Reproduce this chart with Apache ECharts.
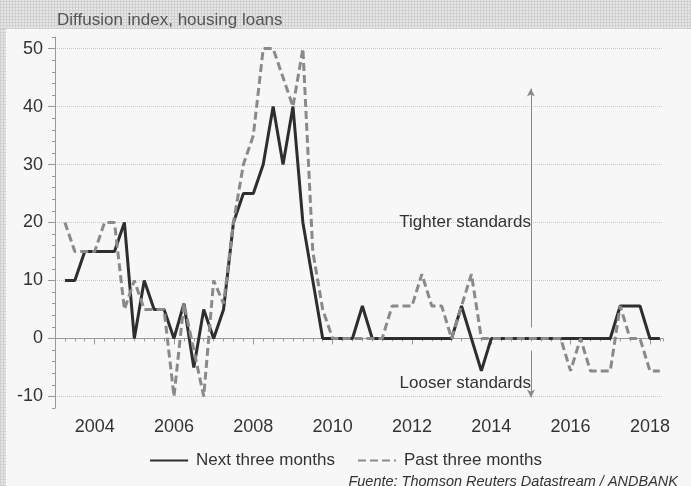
<!DOCTYPE html>
<html>
<head>
<meta charset="utf-8">
<script src="https://cdn.jsdelivr.net/npm/echarts@6/dist/echarts.min.js"></script>
<style>
  html, body { margin: 0; padding: 0; background: #f7f7f7; }
  .wrap { position: relative; width: 691px; height: 486px; }
  .band, .strip {
    position: absolute;
    background-color: #e6e6e6;
    background-image:
      repeating-linear-gradient(0deg, #d0d0d0 0 1px, transparent 1px 3px),
      repeating-linear-gradient(90deg, #d0d0d0 0 1px, transparent 1px 3px);
  }
  .band { left: 0; top: 0; width: 691px; height: 29px; }
  .strip { left: 0; top: 29px; width: 6px; height: 457px; }
  #chart { position: absolute; left: 0; top: 0; width: 691px; height: 486px; }
</style>
</head>
<body>
<div class="wrap">
  <div class="band"></div>
  <div class="strip"></div>
  <div id="chart"></div>
</div>
<script>
// quarterly survey, first point 2003 Q2
const firstQuarter = 2003.25
const nextThree = [
  10, 10, 15, 15, 15, 15, 20, 0, 10, 5,
  5, 0, 6, -5, 5, 0, 5, 20, 25, 25,
  30, 40, 30, 40, 20, 10, 0, 0, 0, 0,
  5.6, 0, 0, 0, 0, 0, 0, 0, 0, 0,
  5.6, 0, -5.6, 0, 0, 0, 0, 0, 0, 0,
  0, 0, 0, 0, 0, 0, 5.6, 5.6, 5.6, 0,
  0
]
const pastThree = [
  20, 15, 15, 15, 20, 20, 5, 10, 5, 5,
  5, -10, 6, -2, -10, 10, 6, 20, 30, 35,
  50, 50, 45, 40, 50, 15, 5, 0, 0, 0,
  0, 0, 0, 5.6, 5.6, 5.6, 11.1, 5.6, 5.6, 0,
  5.6, 11.1, 0, 0, 0, 0, 0, 0, 0, 0,
  0, -5.6, 0, -5.6, -5.6, -5.6, 5.6, 0, 0, -5.6,
  -5.6
]
const yearLabels = [2004, 2006, 2008, 2010, 2012, 2014, 2016, 2018]
const yLabels = [-10, 0, 10, 20, 30, 40, 50]

const toPairs = arr => arr.map((v, i) => [firstQuarter + 0.25 * i, v])

const chart = echarts.init(document.getElementById('chart'))
const font = 'Liberation Sans, Arial, sans-serif'

const option = {
  backgroundColor: 'transparent',
  textStyle: { fontFamily: font },
  animation: false,
  title: [
    {
      text: 'Diffusion index, housing loans',
      left: 52, top: 7,
      textStyle: { fontSize: 17, fontWeight: 'normal', color: '#555', fontFamily: font }
    },
    {
      text: 'Fuente: Thomson Reuters Datastream / ANDBANK',
      right: 8, top: 469,
      textStyle: { fontSize: 14.5, fontWeight: 'normal', fontStyle: 'italic', color: '#333', fontFamily: font }
    }
  ],
  legend: {
    top: 447,
    left: 'center',
    itemWidth: 38,
    itemHeight: 12,
    itemGap: 22,
    itemStyle: { opacity: 0 },
    textStyle: { fontSize: 17, color: '#333', fontFamily: font, padding: [0, 0, 0, 3] },
    data: ['Next three months', 'Past three months']
  },
  grid: { left: 55, right: 28, top: 37, bottom: 78 },
  xAxis: [
    {
      type: 'value', min: 2003, max: 2018.33,
      axisLine: { lineStyle: { color: '#999' } },
      axisTick: { customValues: yearLabels, length: 6, lineStyle: { color: '#999' } },
      axisLabel: {
        customValues: yearLabels, fontSize: 18, color: '#333', margin: 10,
        formatter: v => String(v)
      },
      splitLine: { show: false }
    },
    {
      type: 'value', min: 2003, max: 2018.33, interval: 0.25, position: 'bottom',
      axisLine: { show: false },
      axisTick: { length: 3, lineStyle: { color: '#999' } },
      axisLabel: { show: false },
      splitLine: { show: false }
    }
  ],
  yAxis: [
    {
      type: 'value', min: -12, max: 52,
      axisLine: { show: true, lineStyle: { color: '#999' } },
      axisTick: { show: true, customValues: yLabels, length: 7, lineStyle: { color: '#999' } },
      axisLabel: { customValues: yLabels, fontSize: 18, color: '#333', margin: 12 },
      splitLine: { show: true, lineStyle: { type: 'dotted', color: '#c8c8c8' } }
    },
    {
      type: 'value', min: -12, max: 52, interval: 2, position: 'left',
      axisLine: { show: false },
      axisTick: { show: true, length: 3, lineStyle: { color: '#999' } },
      axisLabel: { show: false },
      splitLine: { show: false }
    }
  ],
  series: [
    {
      name: 'Next three months',
      type: 'line',
      data: toPairs(nextThree),
      symbol: 'none',
      lineStyle: { color: '#2e2e2e', width: 3 },
      itemStyle: { color: '#2e2e2e' },
      z: 3,
      markLine: {
        silent: true,
        symbol: 'none',
        label: { show: false },
        lineStyle: { color: '#999', type: 'solid', width: 1 },
        data: [{ yAxis: 0 }],
        z: 1
      }
    },
    {
      name: 'Past three months',
      type: 'line',
      data: toPairs(pastThree),
      symbol: 'none',
      lineStyle: { color: '#8a8a8a', width: 3, type: [8, 4] },
      itemStyle: { color: '#8a8a8a' },
      z: 4,
      markLine: {
        silent: true,
        symbol: ['none', 'arrow'],
        symbolSize: [6, 8],
        label: { show: false },
        lineStyle: { color: '#888', type: 'solid', width: 1 },
        data: [
          [{ coord: [2015, 1.9] }, { coord: [2015, 43.1] }],
          [{ coord: [2015, -2.1] }, { coord: [2015, -10.2] }]
        ]
      },
      markPoint: {
        silent: true,
        symbol: 'circle',
        symbolSize: 0,
        label: {
          show: true, position: 'left', distance: 0,
          formatter: '{b}', fontSize: 17, color: '#333', fontFamily: font
        },
        data: [
          { name: 'Tighter standards', coord: [2015, 20] },
          { name: 'Looser standards', coord: [2015, -7.8] }
        ]
      }
    }
  ]
}
chart.setOption(option)
</script>
</body>
</html>
